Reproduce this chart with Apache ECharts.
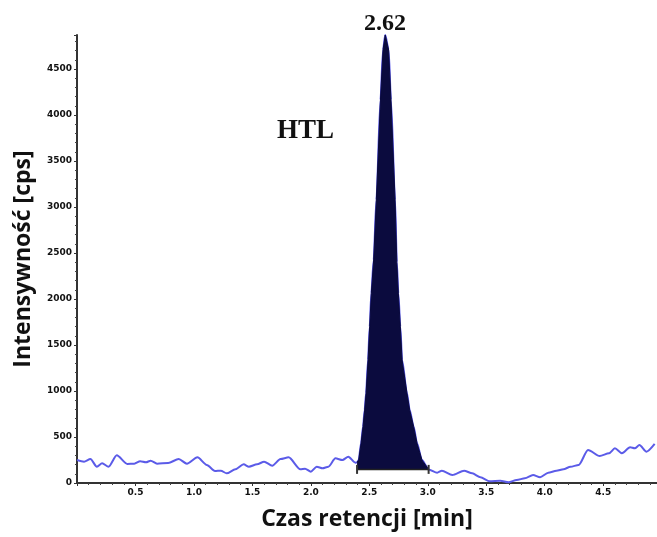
<!DOCTYPE html>
<html>
<head>
<meta charset="utf-8">
<script src="https://cdn.jsdelivr.net/npm/echarts@6/dist/echarts.min.js"></script>
<style>
html,body{margin:0;padding:0;background:#fff;}
#chart{width:657px;height:537px;}
</style>
</head>
<body>
<div id="chart"></div>
<script>
// Retention time [min]
var times = [
  0.00, 0.06, 0.115, 0.17, 0.215, 0.27, 0.34, 0.43, 0.49, 0.54, 0.59, 0.63, 0.685, 0.78, 0.87, 0.94,
  1.03, 1.11, 1.18, 1.23, 1.28, 1.355, 1.425, 1.47, 1.54, 1.60, 1.67, 1.74, 1.81, 1.91, 1.95,
  2.00, 2.05, 2.10, 2.15, 2.21, 2.27, 2.32, 2.38,
  2.395, 2.409, 2.429, 2.446, 2.46, 2.472, 2.489, 2.503, 2.517, 2.537, 2.56, 2.595, 2.617, 2.636,
  2.665, 2.685, 2.72, 2.735, 2.748, 2.765, 2.78, 2.822, 2.845, 2.879, 2.908, 2.95, 3.007,
  3.08, 3.12, 3.21, 3.31, 3.38, 3.45, 3.53, 3.62, 3.69, 3.76, 3.83, 3.90, 3.96,
  4.03, 4.10, 4.16, 4.22, 4.29, 4.37, 4.47, 4.55, 4.60, 4.66, 4.73, 4.77, 4.81, 4.87, 4.94
];
// Intensity [cps]
var intensity = [
  250, 232, 261, 177, 214, 177, 301, 207, 210, 236, 225, 243, 210, 217, 261, 210,
  279, 196, 130, 134, 105, 149, 203, 177, 203, 232, 188, 261, 279, 149, 156,
  123, 177, 160, 177, 268, 250, 286, 221,
  225, 250, 431, 612, 793, 975, 1337, 1699, 2062, 2424, 3076, 4163, 4707, 4870,
  4707, 4163, 3076, 2400, 2062, 1699, 1337, 975, 793, 612, 431, 250, 148,
  112, 134, 87, 134, 105, 62, 18, 25, 7, 33, 51, 87, 62,
  112, 134, 149, 177, 196, 359, 293, 323, 377, 323, 388, 377, 413, 340, 424
];
// Integrated peak: start/end times and baseline level
var peakStart = 2.395, peakEnd = 3.007, peakBase = 148;
var peakLabel = '2.62';
var compoundLabel = 'HTL';
var xTickLabels = ['0.5', '1.0', '1.5', '2.0', '2.5', '3.0', '3.5', '4.0', '4.5'];
var yTickLabels = ['0', '500', '1000', '1500', '2000', '2500', '3000', '3500', '4000', '4500'];

var trace = times.map(function (t, i) { return [t, intensity[i]]; });
var peakData = trace.filter(function (p) { return p[0] >= peakStart && p[0] <= peakEnd; });
var baseData = [[peakStart, peakBase], [peakEnd, peakBase]];

var chart = echarts.init(document.getElementById('chart'), null, { renderer: 'canvas' });
var tickFont = { fontFamily: 'DejaVu Sans', fontWeight: 'bold', fontSize: 9, color: '#111' };

chart.setOption({
  animation: false,
  backgroundColor: '#fff',
  grid: { left: 77, right: 0, top: 35, bottom: 54 },
  xAxis: {
    type: 'value', min: 0, max: 4.96, interval: 0.5,
    name: 'Czas retencji [min]', nameLocation: 'middle', nameGap: 25,
    nameTextStyle: { fontFamily: 'Open Sans', fontWeight: 'bold', fontSize: 23, color: '#111' },
    axisLine: { lineStyle: { color: '#333', width: 2 } },
    axisTick: { show: true, length: 3, lineStyle: { color: '#333', width: 1 } },
    minorTick: { show: true, splitNumber: 5, length: 2, lineStyle: { color: '#444' } },
    splitLine: { show: false },
    axisLabel: Object.assign({
      margin: 5, showMinLabel: false, showMaxLabel: false,
      formatter: function (v) { var s = v.toFixed(1); return xTickLabels.indexOf(s) >= 0 ? s : ''; }
    }, tickFont)
  },
  yAxis: {
    type: 'value', min: 0, max: 4870, interval: 500,
    name: 'Intensywność [cps]', nameLocation: 'middle', nameGap: 42,
    nameTextStyle: { fontFamily: 'Open Sans', fontWeight: 'bold', fontSize: 23, color: '#111' },
    axisLine: { show: true, lineStyle: { color: '#333', width: 2 } },
    axisTick: { show: true, length: 3, lineStyle: { color: '#333', width: 1 } },
    minorTick: { show: true, splitNumber: 5, length: 2, lineStyle: { color: '#444' } },
    splitLine: { show: false },
    axisLabel: Object.assign({
      margin: 5, showMaxLabel: false,
      formatter: function (v) { var s = String(v); return yTickLabels.indexOf(s) >= 0 ? s : ''; }
    }, tickFont)
  },
  series: [
    {
      type: 'line', data: trace, showSymbol: false, smooth: 0.25, smoothMonotone: 'x',
      lineStyle: { color: '#5b5be8', width: 2 }, z: 2
    },
    {
      type: 'line', data: peakData, showSymbol: false,
      lineStyle: { color: '#0b0b3e', width: 1 },
      areaStyle: { color: '#0b0b3e', opacity: 1, origin: peakBase }, z: 3
    },
    {
      type: 'line', data: baseData, symbol: 'rect', symbolSize: [2, 9], showSymbol: true,
      itemStyle: { color: '#333' }, lineStyle: { color: '#222', width: 1.5 }, z: 4
    }
  ],
  graphic: [
    { type: 'text', left: 364, top: 12, style: { text: peakLabel, fontFamily: 'Liberation Serif', fontWeight: 'bold', fontSize: 24, fill: '#111' } },
    { type: 'text', left: 277, top: 118, style: { text: compoundLabel, fontFamily: 'Liberation Serif', fontWeight: 'bold', fontSize: 27, fill: '#111' } }
  ]
});
</script>
</body>
</html>
